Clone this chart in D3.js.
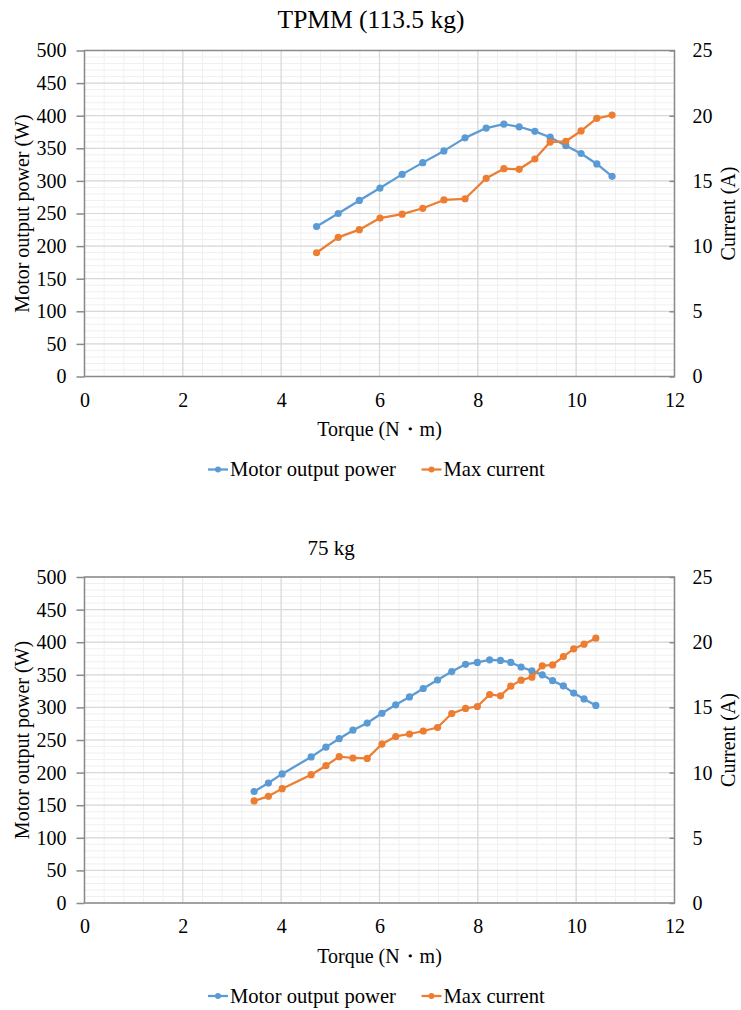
<!DOCTYPE html>
<html>
<head>
<meta charset="utf-8">
<script src="https://cdn.jsdelivr.net/npm/d3@7"></script>
<style>
  html, body { margin: 0; padding: 0; background: #fff; }
  svg { display: block; }
  svg text { font-family: "Liberation Serif", Tinos, "Times New Roman", "DejaVu Serif", serif; fill: #000; }
</style>
</head>
<body>
<svg id="chart" width="741" height="1010"></svg>
<script>
// TPMM (113.5 kg) test run
const torqueHeavy = [4.72, 5.16, 5.59, 6.01, 6.46, 6.88, 7.31, 7.74, 8.17, 8.53, 8.84, 9.16, 9.47, 9.79, 10.10, 10.42, 10.73];
const powerHeavy = [230, 250, 270, 289, 310, 328, 346, 366, 381, 387, 383, 376, 367, 354, 342, 326, 307];
const currentHeavy = [9.49, 10.67, 11.26, 12.15, 12.45, 12.90, 13.54, 13.63, 15.20, 15.94, 15.89, 16.68, 17.98, 18.04, 18.83, 19.80, 20.05];

// 75 kg test run
const torqueLight = [3.45, 3.74, 4.02, 4.61, 4.91, 5.18, 5.46, 5.75, 6.05, 6.33, 6.61, 6.89, 7.18, 7.47, 7.75, 7.99, 8.24, 8.46, 8.67, 8.88, 9.10, 9.31, 9.52, 9.74, 9.95, 10.16, 10.40];
const powerLight = [171, 184, 198, 224, 239, 252, 265, 276, 291, 304, 316, 329, 342, 355, 366, 369, 373, 372, 369, 362, 356, 350, 341, 333, 322, 313, 303];
const currentLight = [7.83, 8.18, 8.77, 9.84, 10.53, 11.22, 11.12, 11.09, 12.19, 12.77, 12.96, 13.19, 13.46, 14.53, 14.92, 15.07, 15.99, 15.89, 16.63, 17.09, 17.32, 18.19, 18.26, 18.90, 19.49, 19.85, 20.31];

// Axis ticks
const torqueTicks = [0, 2, 4, 6, 8, 10, 12];
const powerTicks = [0, 50, 100, 150, 200, 250, 300, 350, 400, 450, 500];
const currentTicks = [0, 5, 10, 15, 20, 25];

const panelTitles = ["TPMM (113.5 kg)", "75 kg"];
const seriesNames = ["Motor output power", "Max current"];
const xTitle = "Torque (N\u30FBm)";
const yLeftTitle = "Motor output power (W)";
const yRightTitle = "Current (A)";

const BLUE = "#5B9BD5";
const ORANGE = "#ED7D31";
const FONT = '"Liberation Serif", Tinos, "Times New Roman", "DejaVu Serif", serif';

const svg = d3.select("#chart");

const plot = { left: 84.5, right: 674.5, top: 50.5, height: 326 };

function drawPanel(offsetY, title, titleX, titleSize, torque, power, current) {
  const g = svg.append("g").attr("transform", `translate(0,${offsetY})`);
  const bottom = plot.top + plot.height;

  const x = d3.scaleLinear().domain([0, 12]).range([plot.left, plot.right]);
  const yP = d3.scaleLinear().domain([0, 500]).range([bottom, plot.top]);
  const yC = d3.scaleLinear().domain([0, 25]).range([bottom, plot.top]);

  // minor gridlines
  const grid = g.append("g");
  grid.selectAll("line.vminor").data(d3.range(0, 12.0001, 0.4)).join("line")
    .attr("x1", d => x(d)).attr("x2", d => x(d))
    .attr("y1", plot.top).attr("y2", bottom)
    .attr("stroke", "#f0f0f0").attr("stroke-width", 1);
  grid.selectAll("line.hminor").data(d3.range(0, 500.001, 10)).join("line")
    .attr("x1", plot.left).attr("x2", plot.right)
    .attr("y1", d => yP(d)).attr("y2", d => yP(d))
    .attr("stroke", "#f0f0f0").attr("stroke-width", 1);
  // major gridlines
  grid.append("g").selectAll("line").data(torqueTicks).join("line")
    .attr("x1", d => x(d)).attr("x2", d => x(d))
    .attr("y1", plot.top).attr("y2", bottom)
    .attr("stroke", "#d9d9d9").attr("stroke-width", 1.2);
  grid.append("g").selectAll("line").data(powerTicks).join("line")
    .attr("x1", plot.left).attr("x2", plot.right)
    .attr("y1", d => yP(d)).attr("y2", d => yP(d))
    .attr("stroke", "#d9d9d9").attr("stroke-width", 1.2);

  // plot frame
  g.append("rect")
    .attr("x", plot.left).attr("y", plot.top)
    .attr("width", plot.right - plot.left).attr("height", plot.height)
    .attr("fill", "none").attr("stroke", "#8a8a8a").attr("stroke-width", 1.5);

  // axes
  const axisLeft = d3.axisLeft(yP).tickValues(powerTicks).tickSize(8).tickPadding(10);
  const axL = g.append("g").attr("transform", `translate(${plot.left},0)`).call(axisLeft);
  const axisRight = d3.axisRight(yC).tickValues(currentTicks).tickSizeInner(-5).tickSizeOuter(0).tickPadding(18);
  const axR = g.append("g").attr("transform", `translate(${plot.right},0)`).call(axisRight);
  const axisBottom = d3.axisBottom(x).tickValues(torqueTicks).tickSize(0).tickPadding(16);
  const axB = g.append("g").attr("transform", `translate(0,${bottom})`).call(axisBottom);

  [axL, axR, axB].forEach(a => {
    a.attr("font-family", FONT);
    a.select(".domain").remove();
    a.selectAll(".tick line").attr("stroke", "#8a8a8a").attr("stroke-width", 1.5);
    a.selectAll(".tick text").attr("font-size", 20).attr("fill", "#000");
  });

  // series
  const pts = torque.map((t, i) => ({ t, p: power[i], c: current[i] }));
  const linePower = d3.line().x(d => x(d.t)).y(d => yP(d.p));
  const lineCurrent = d3.line().x(d => x(d.t)).y(d => yC(d.c));

  g.append("path").datum(pts).attr("d", linePower)
    .attr("fill", "none").attr("stroke", BLUE).attr("stroke-width", 2.25).attr("stroke-linejoin", "round");
  g.append("g").selectAll("circle").data(pts).join("circle")
    .attr("cx", d => x(d.t)).attr("cy", d => yP(d.p)).attr("r", 3.6).attr("fill", BLUE);

  g.append("path").datum(pts).attr("d", lineCurrent)
    .attr("fill", "none").attr("stroke", ORANGE).attr("stroke-width", 2.25).attr("stroke-linejoin", "round");
  g.append("g").selectAll("circle").data(pts).join("circle")
    .attr("cx", d => x(d.t)).attr("cy", d => yC(d.c)).attr("r", 3.6).attr("fill", ORANGE);

  // titles
  g.append("text").attr("x", titleX).attr("y", 28).attr("text-anchor", "middle")
    .attr("font-size", titleSize).text(title);

  g.append("text").attr("x", (plot.left + plot.right) / 2).attr("y", 436)
    .attr("text-anchor", "middle").attr("font-size", 20).text(xTitle);

  g.append("text")
    .attr("transform", `translate(29,${plot.top + plot.height / 2}) rotate(-90)`)
    .attr("text-anchor", "middle").attr("font-size", 20).text(yLeftTitle);

  g.append("text")
    .attr("transform", `translate(735,${plot.top + plot.height / 2}) rotate(-90)`)
    .attr("text-anchor", "middle").attr("font-size", 20).text(yRightTitle);

  // legend
  const legend = g.append("g").attr("transform", "translate(0,469.5)");
  const items = [
    { name: seriesNames[0], color: BLUE, x0: 208 },
    { name: seriesNames[1], color: ORANGE, x0: 421.5 }
  ];
  items.forEach(it => {
    legend.append("line").attr("x1", it.x0).attr("x2", it.x0 + 20)
      .attr("y1", 0).attr("y2", 0).attr("stroke", it.color).attr("stroke-width", 2.25);
    legend.append("circle").attr("cx", it.x0 + 10).attr("cy", 0).attr("r", 3).attr("fill", it.color);
    legend.append("text").attr("x", it.x0 + 22).attr("y", 6.5).attr("font-size", 20.6).text(it.name);
  });
}

drawPanel(0, panelTitles[0], 371, 25.5, torqueHeavy, powerHeavy, currentHeavy);
drawPanel(526.5, panelTitles[1], 331, 21, torqueLight, powerLight, currentLight);
</script>
</body>
</html>
